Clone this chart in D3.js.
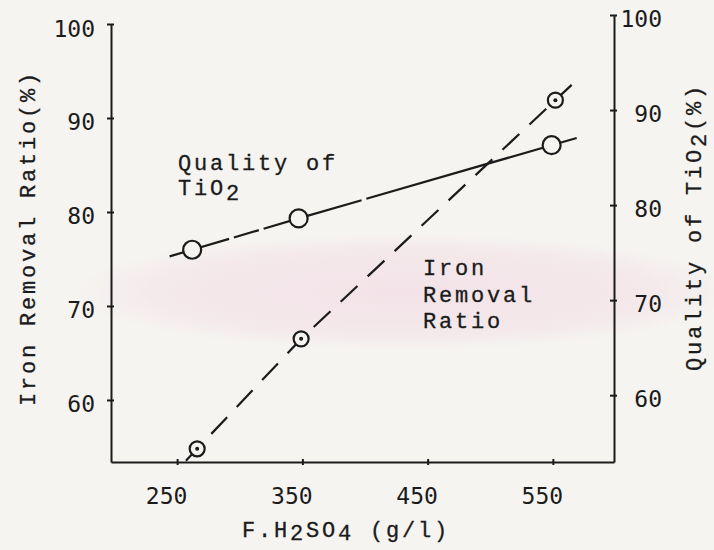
<!DOCTYPE html>
<html><head><meta charset="utf-8">
<script src="https://cdn.jsdelivr.net/npm/d3@7"></script>
<style>
html,body{margin:0;padding:0;background:#f5f4f1;}
svg{display:block;}
</style></head><body>
<svg id="chart" width="714" height="550"></svg>
<script>
// ---- data ----
const xTicks = [250, 350, 450, 550];
const leftTicks = [60, 70, 80, 90, 100];
const rightTicks = [60, 70, 80, 90, 100];
const qualityX = [262, 347, 549];      // F.H2SO4 (g/l)
const qualityY = [75.3, 78.6, 86.3];   // Quality of TiO2 (%) - right axis
const ironX = [266, 349, 552];
const ironY = [54.8, 66.5, 91.9];      // Iron Removal Ratio (%) - left axis

// ---- layout ----
const ink = "#1b1b1b";
const bg = "#f5f4f1";
const svg = d3.select("#chart");
const L = 111, R = 614, B = 462;
const x = d3.scaleLinear().domain([197.2, 598.8]).range([L, R]);
const yL = d3.scaleLinear().domain([53.4, 100]).range([B, 24]);
const yR = d3.scaleLinear().domain([52.97, 100]).range([B, 15]);

svg.append("rect").attr("width", 714).attr("height", 550).attr("fill", bg);
// faint watermark tint of the scanned page
const defs = svg.append("defs");
const grad = defs.append("radialGradient").attr("id", "wm");
grad.append("stop").attr("offset", "0%").attr("stop-color", "#f3e1e7").attr("stop-opacity", 0.9);
grad.append("stop").attr("offset", "75%").attr("stop-color", "#f3e1e7").attr("stop-opacity", 0.6);
grad.append("stop").attr("offset", "100%").attr("stop-color", "#f3e1e7").attr("stop-opacity", 0);
svg.append("ellipse").attr("cx", 405).attr("cy", 292).attr("rx", 330).attr("ry", 58)
  .attr("fill", "url(#wm)");

const numFont = "'DejaVu Sans Mono', monospace";
const txtFont = "'Liberation Mono', 'Courier New', monospace";

function styleAxis(g) {
  g.select(".domain").attr("stroke", ink).attr("stroke-width", 2);
  g.selectAll(".tick line").attr("stroke", ink).attr("stroke-width", 2);
  g.selectAll(".tick text").attr("fill", ink).style("font-family", numFont).style("font-size", "23px");
}

// bottom axis
const gx = svg.append("g").attr("transform", `translate(0,${B})`)
  .call(d3.axisBottom(x).tickValues(xTicks).tickSizeOuter(0).tickSize(0));
styleAxis(gx);
gx.selectAll(".tick line").attr("y1", -3).attr("y2", 3);
gx.selectAll(".tick text").attr("y", 42).attr("dy", 0).attr("x", -11);

// left axis
const gl = svg.append("g").attr("transform", `translate(${L},0)`)
  .call(d3.axisLeft(yL).tickValues(leftTicks).tickSizeOuter(0).tickSize(0));
styleAxis(gl);
gl.selectAll(".tick line").attr("x1", -4).attr("x2", 3);
gl.selectAll(".tick text").attr("x", -16).attr("dy", 0).attr("y", 12);

// right axis
const gr = svg.append("g").attr("transform", `translate(${R},0)`)
  .call(d3.axisRight(yR).tickValues(rightTicks).tickSizeOuter(0).tickSize(0));
styleAxis(gr);
gr.selectAll(".tick line").attr("x1", -4).attr("x2", 3);
gr.selectAll(".tick text").attr("x", 48).attr("dy", 0).attr("y", 11).attr("text-anchor", "end");

// ---- lines ----
function extended(xs, ys, dl, dr) {
  const n = xs.length;
  const s0 = (ys[1] - ys[0]) / (xs[1] - xs[0]);
  const s1 = (ys[n - 1] - ys[n - 2]) / (xs[n - 1] - xs[n - 2]);
  const pts = [[xs[0] - dl, ys[0] - s0 * dl]];
  xs.forEach((v, i) => pts.push([v, ys[i]]));
  pts.push([xs[n - 1] + dr, ys[n - 1] + s1 * dr]);
  return pts;
}

const qPts = extended(qualityX, qualityY, 18, 20);
svg.append("path")
  .attr("d", d3.line().x(d => x(d[0])).y(d => yR(d[1]))(qPts))
  .attr("fill", "none").attr("stroke", ink).attr("stroke-width", 2.2)
  .attr("stroke-dasharray", "62 5 26 5 102 5 1000");

const iPts = extended(ironX, ironY, 9, 13);
svg.append("path")
  .attr("d", d3.line().x(d => x(d[0])).y(d => yL(d[1]))(iPts))
  .attr("fill", "none").attr("stroke", ink).attr("stroke-width", 2.2)
  .attr("stroke-dasharray", "23 14");

// ---- markers ----
svg.selectAll(".qpt").data(qualityX).join("circle").attr("class", "qpt")
  .attr("cx", d => x(d)).attr("cy", (d, i) => yR(qualityY[i])).attr("r", 9)
  .attr("fill", bg).attr("stroke", ink).attr("stroke-width", 2.2);

svg.selectAll(".ipt").data(ironX).join("circle").attr("class", "ipt")
  .attr("cx", d => x(d)).attr("cy", (d, i) => yL(ironY[i])).attr("r", 7.5)
  .attr("fill", bg).attr("stroke", ink).attr("stroke-width", 2.2);
svg.selectAll(".idot").data(ironX).join("circle").attr("class", "idot")
  .attr("cx", d => x(d)).attr("cy", (d, i) => yL(ironY[i])).attr("r", 2)
  .attr("fill", ink);

// ---- texts ----
function txt(px, py) {
  return svg.append("text").attr("x", px).attr("y", py).attr("fill", ink)
    .style("font-family", txtFont).style("font-size", "22px").style("letter-spacing", "2.8px")
    .attr("stroke", ink).attr("stroke-width", 0.3);
}
txt(178, 170).text("Quality of");
const t2 = txt(178, 195); t2.append("tspan").text("TiO"); t2.append("tspan").attr("dy", 5).text("2");

txt(423, 275).text("Iron");
txt(423, 302).text("Removal");
txt(423, 328).text("Ratio");

const xt = txt(242, 537);
xt.append("tspan").text("F.H");
xt.append("tspan").attr("dy", 3).text("2");
xt.append("tspan").attr("dy", -3).text("SO");
xt.append("tspan").attr("dy", 3).text("4");
xt.append("tspan").attr("dy", -3).text(" (g/l)");

txt(0, 0).attr("transform", "translate(35,238) rotate(-90)").attr("text-anchor", "middle")
  .text("Iron Removal Ratio(%)");

const rt = txt(0, 0).attr("transform", "translate(701,227) rotate(-90)").attr("text-anchor", "middle");
rt.append("tspan").text("Quality of TiO");
rt.append("tspan").attr("dy", 5).text("2");
rt.append("tspan").attr("dy", -5).text("(%)");
</script>
</body></html>
